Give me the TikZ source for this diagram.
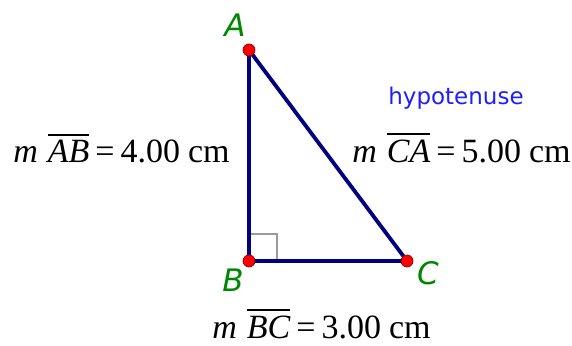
\documentclass[tikz,border=0pt]{standalone}
\usepackage{fontspec}
\setmainfont{Liberation Serif}
\newfontfamily\labelfont{DejaVu Sans}
\usepackage{xcolor}
\usetikzlibrary{positioning, calc}

\definecolor{edgeblue}{RGB}{0,0,128}
\definecolor{labelgreen}{RGB}{0,135,0}
\definecolor{hypblue}{RGB}{30,30,255}
\definecolor{markgray}{RGB}{155,155,155}

\newcommand{\segbar}[1]{\leavevmode\vbox{\hrule height 2pt\kern 5pt\hbox{\itshape #1}}}
\newcommand{\measure}[2]{\textit{m}\hspace{10pt}\segbar{#1}\hspace{6pt}=\hspace{6pt}#2\hspace{8pt}cm}

\begin{document}
\begin{tikzpicture}[x=1pt, y=1pt,
    edge/.style={draw=edgeblue, line width=3.8pt},
    vdot/.style={circle, fill=red, draw=red!55!black, line width=0.7pt, inner sep=0pt, minimum size=12pt},
    vlabel/.style={text=labelgreen, font=\labelfont\itshape\fontsize{31}{33}\selectfont},
    measlabel/.style={anchor=base, inner sep=0pt, font=\fontsize{34}{36}\selectfont}]
  \useasboundingbox (0,0) rectangle (572,345);

  % vertices
  \coordinate (A) at (249,295);
  \coordinate (B) at (249,84);
  \coordinate (C) at (407,84);

  % right angle at B
  \draw[markgray, line width=2.8pt] ($(B)+(0,27)$) -- ++(28,0) -- ++(0,-27);

  \draw[edge, line join=round] (A) -- (B) -- (C) -- cycle;

  \node[vdot] (dotA) at (A) {};
  \node[vdot] (dotB) at (B) {};
  \node[vdot] (dotC) at (C) {};

  \node[vlabel] (labA) at (235,320) {A};
  \node[vlabel] (labB) at (233,65) {B};
  \node[vlabel] (labC) at (428,72) {C};

  % measurements
  \node[text=hypblue, font=\labelfont\fontsize{23}{25}\selectfont] (hyp) at (456,247) {hypotenuse};
  \node[measlabel] (measAB) at (121.5,182) {\measure{AB}{4.00}};
  \node[measlabel] (measCA) at (461.5,182) {\measure{CA}{5.00}};
  \node[measlabel] (measBC) at (321.5,6.5) {\measure{BC}{3.00}};
\end{tikzpicture}
\end{document}
